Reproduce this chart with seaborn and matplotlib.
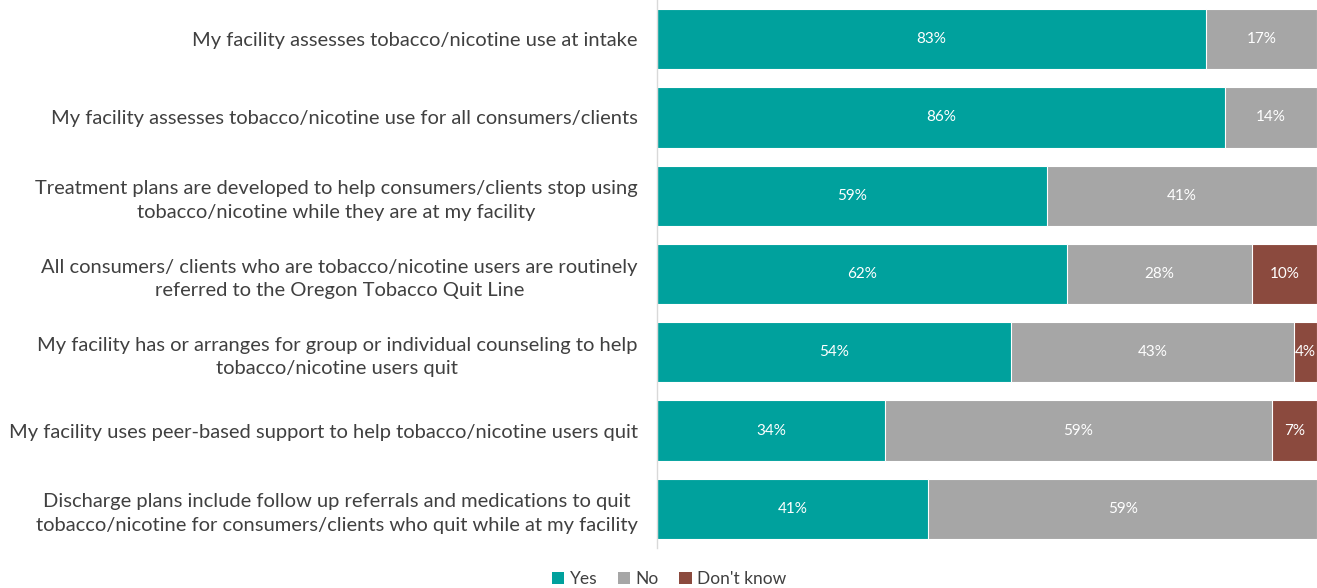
import numpy as np
import pandas as pd
import matplotlib
matplotlib.use("Agg")
import matplotlib.pyplot as plt
import seaborn as sns
from matplotlib.patches import Patch

categories = [
    "My facility assesses tobacco/nicotine use at intake",
    "My facility assesses tobacco/nicotine use for all consumers/clients",
    "Treatment plans are developed to help consumers/clients stop using\ntobacco/nicotine while they are at my facility",
    "All consumers/ clients who are tobacco/nicotine users are routinely\nreferred to the Oregon Tobacco Quit Line",
    "My facility has or arranges for group or individual counseling to help\ntobacco/nicotine users quit",
    "My facility uses peer-based support to help tobacco/nicotine users quit",
    "Discharge plans include follow up referrals and medications to quit\ntobacco/nicotine for consumers/clients who quit while at my facility",
]
yes = [83.2, 86.1, 59.1, 62.1, 53.6, 34.5, 41.1]
no = [16.8, 13.9, 40.9, 28.1, 42.9, 58.7, 58.9]
dont_know = [0, 0, 0, 9.8, 3.5, 6.8, 0]

series = ["Yes", "No", "Don't know"]
colors = ["#00A19D", "#A6A6A6", "#8B4A3E"]

df = pd.DataFrame({"cat": categories, "Yes": yes, "No": no, "Don't know": dont_know})
df["c_yes"] = df["Yes"]
df["c_no"] = df["Yes"] + df["No"]
df["c_dk"] = df["c_no"] + df["Don't know"]

sns.set_theme(style="white")
plt.rcParams["font.family"] = ["Lato", "DejaVu Sans"]

fig = plt.figure(figsize=(13.17, 5.88), dpi=100)
ax = fig.add_axes([0.4989, 0.068, 0.5011, 0.932])

# stacked bars by overlaying cumulative totals
for col, color in [("c_dk", colors[2]), ("c_no", colors[1]), ("c_yes", colors[0])]:
    sns.barplot(data=df, x=col, y="cat", color=color, orient="h", width=0.77,
                edgecolor="white", linewidth=0.8, saturation=1, ax=ax)

# segment labels
for i, row in df.iterrows():
    left = 0
    for s in series:
        v = row[s]
        if v > 0:
            ax.text(left + v / 2, i, f"{v:.0f}%", ha="center", va="center",
                    color="white", fontsize=11)
        left += v

ax.set_xlim(0, 100)
ax.set_ylim(6.5, -0.5)
ax.set_xlabel("")
ax.set_ylabel("")
ax.set_xticks([])
ax.tick_params(axis="y", length=0, pad=14, labelsize=14.5, labelcolor="#404040")
for lbl in ax.get_yticklabels():
    lbl.set_horizontalalignment("right")
    lbl.set_multialignment("center")
    lbl.set_linespacing(1.45)
for side in ["top", "right", "bottom"]:
    ax.spines[side].set_visible(False)
ax.spines["left"].set_color("#D9D9D9")
ax.spines["left"].set_linewidth(1)

handles = [Patch(facecolor=c, edgecolor="none") for c in colors]
fig.legend(handles, series, loc="center", bbox_to_anchor=(0.508, 0.015), ncol=3,
           frameon=False, fontsize=12.5, handlelength=0.7, handleheight=0.7,
           handletextpad=0.3, columnspacing=1.2, labelcolor="#404040")

fig.savefig("out.png", dpi=100)
